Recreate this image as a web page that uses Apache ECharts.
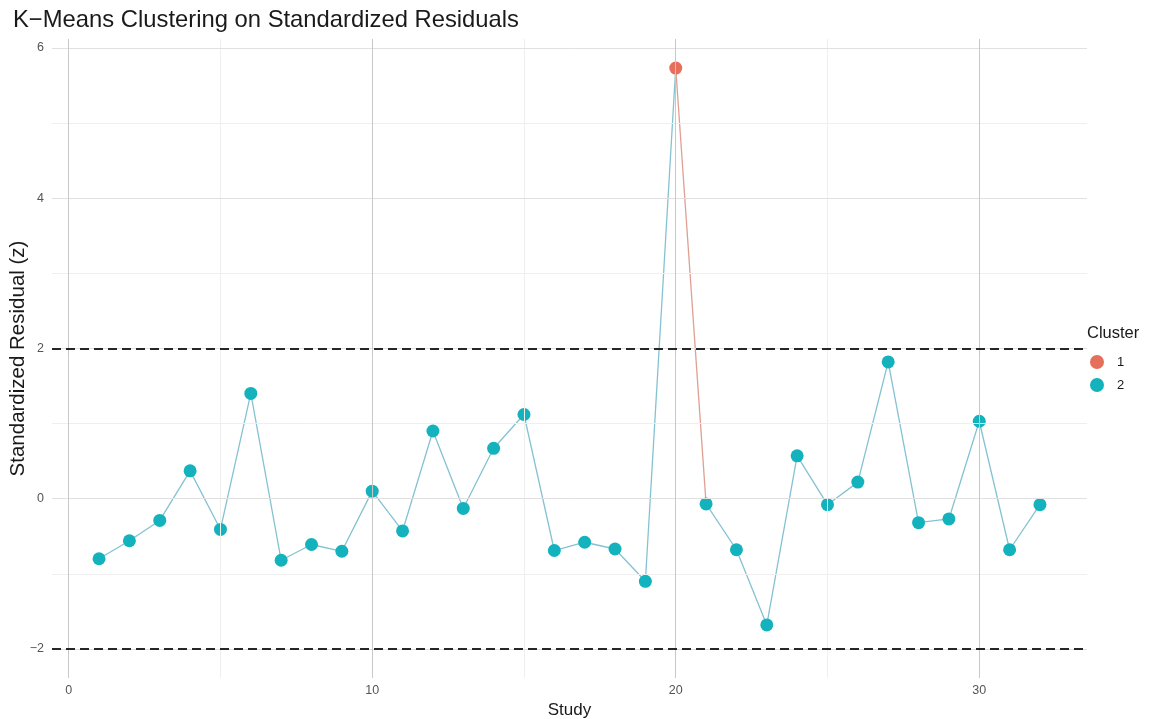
<!DOCTYPE html>
<html>
<head>
<meta charset="utf-8">
<title>K-Means Clustering on Standardized Residuals</title>
<script src="https://cdn.jsdelivr.net/npm/echarts@6/dist/echarts.min.js"></script>
<style>
  html, body { margin: 0; padding: 0; background: #fff; }
  #chart { width: 1176px; height: 719px; }
</style>
</head>
<body>
<div id="chart"></div>
<script>
// study index, standardized residual, cluster label
const studies = [1, 2, 3, 4, 5, 6, 7, 8, 9, 10, 11, 12, 13, 14, 15, 16,
                 17, 18, 19, 20, 21, 22, 23, 24, 25, 26, 27, 28, 29, 30, 31, 32];
const residuals = [-0.80, -0.56, -0.29, 0.37, -0.41, 1.40, -0.82, -0.61, -0.70, 0.10, -0.43, 0.90,
                   -0.13, 0.67, 1.12, -0.69, -0.58, -0.67, -1.10, 5.73, -0.07, -0.68, -1.68, 0.57,
                   -0.08, 0.22, 1.82, -0.32, -0.27, 1.03, -0.68, -0.08];
const clusters = [2, 2, 2, 2, 2, 2, 2, 2, 2, 2, 2, 2, 2, 2, 2, 2,
                  2, 2, 2, 1, 2, 2, 2, 2, 2, 2, 2, 2, 2, 2, 2, 2];

const clusterNames = ['1', '2'];
const thresholds = [-2, 2];
const xTicks = [0, 10, 20, 30];
const xMinor = [5, 15, 25];
const yTicks = [-2, 0, 2, 4, 6];
const yMinor = [-1, 1, 3, 5];

const pointColor = { '1': '#e66f5c', '2': '#14b2bd' };
const lineColor = { '1': '#dfa093', '2': '#84c2d2' };

const FONT = '"Liberation Sans", Arial, sans-serif';
const minus = v => String(v).replace('-', '\u2212');

// ggplot-style 5% expansion
const xLo = Math.min(...studies), xHi = Math.max(...studies);
const yLo = Math.min(...residuals, ...thresholds), yHi = Math.max(...residuals, ...thresholds);
const xPad = (xHi - xLo) * 0.05, yPad = (yHi - yLo) * 0.05;

// line segments coloured by the cluster of their starting point
const lineSeries = [];
let run = null;
for (let i = 0; i < studies.length - 1; i++) {
  const c = String(clusters[i]);
  if (!run || run.c !== c) {
    run = { c, pts: [[studies[i], residuals[i]]] };
    lineSeries.push(run);
  }
  run.pts.push([studies[i + 1], residuals[i + 1]]);
}

const series = [];

// panel grid lines
series.push({
  type: 'line',
  data: [],
  silent: true,
  z: 0,
  markLine: {
    silent: true,
    symbol: 'none',
    label: { show: false },
    animation: false,
    data: [
      ...xMinor.map(v => ({ xAxis: v, lineStyle: { color: '#efefef', width: 1, type: 'solid', opacity: 1 } })),
      ...yMinor.map(v => ({ yAxis: v, lineStyle: { color: '#efefef', width: 1, type: 'solid', opacity: 1 } })),
      ...yTicks.map(v => ({ yAxis: v, lineStyle: { color: '#e0e0e0', width: 1, type: 'solid', opacity: 1 } })),
      ...xTicks.map(v => ({ xAxis: v, lineStyle: { color: '#c8c8c8', width: 1, type: 'solid', opacity: 1 } }))
    ]
  }
});

lineSeries.forEach(r => {
  series.push({
    type: 'line',
    data: r.pts,
    showSymbol: false,
    symbol: 'none',
    silent: true,
    z: 2,
    lineStyle: { color: lineColor[r.c], width: 1.3, opacity: 1 }
  });
});

// threshold lines
series.push({
  type: 'line',
  data: [],
  silent: true,
  z: 3,
  markLine: {
    silent: true,
    symbol: 'none',
    label: { show: false },
    animation: false,
    lineStyle: { color: '#262626', width: 1.8, type: [9, 5], opacity: 1 },
    data: thresholds.map(v => ({ yAxis: v }))
  }
});

clusterNames.forEach(name => {
  series.push({
    name,
    type: 'scatter',
    symbol: 'circle',
    symbolSize: 13,
    z: 4,
    itemStyle: { color: pointColor[name], opacity: 1 },
    data: studies
      .map((s, i) => [s, residuals[i], clusters[i]])
      .filter(d => String(d[2]) === name)
      .map(d => [d[0], d[1]])
  });
});

const chart = echarts.init(document.getElementById('chart'));
chart.setOption({
  animation: false,
  backgroundColor: '#fff',
  textStyle: { fontFamily: FONT },
  title: [
    {
      text: 'K\u2212Means Clustering on Standardized Residuals',
      left: 8, top: 3,
      textStyle: { fontFamily: FONT, fontSize: 23.8, fontWeight: 'normal', color: '#1a1a1a' }
    },
    {
      text: 'Cluster',
      left: 1082, top: 320,
      textStyle: { fontFamily: FONT, fontSize: 16.5, fontWeight: 'normal', color: '#1a1a1a' }
    }
  ],
  legend: {
    data: clusterNames,
    orient: 'vertical',
    left: 1085, top: 350,
    icon: 'circle',
    itemWidth: 14, itemHeight: 14,
    itemGap: 9,
    itemStyle: { opacity: 1 },
    textStyle: { fontFamily: FONT, fontSize: 13, color: '#1a1a1a', padding: [0, 0, 0, 8] }
  },
  grid: { left: 52, right: 89, top: 39, bottom: 41, outerBoundsMode: 'none', containLabel: false },
  xAxis: {
    type: 'value',
    min: xLo - xPad,
    max: xHi + xPad,
    name: 'Study',
    nameLocation: 'middle',
    nameGap: 24,
    nameMoveOverlap: false,
    nameTextStyle: { fontFamily: FONT, fontSize: 17, color: '#1a1a1a' },
    axisLine: { show: false },
    axisTick: { show: false },
    splitLine: { show: false },
    axisLabel: {
      customValues: xTicks,
      margin: 6,
      fontSize: 12.5,
      color: '#555',
      formatter: minus
    }
  },
  yAxis: {
    type: 'value',
    min: yLo - yPad,
    max: yHi + yPad,
    name: 'Standardized Residual (z)',
    nameLocation: 'middle',
    nameGap: 23,
    nameMoveOverlap: false,
    nameTextStyle: { fontFamily: FONT, fontSize: 20.5, color: '#1a1a1a' },
    axisLine: { show: false },
    axisTick: { show: false },
    splitLine: { show: false },
    axisLabel: {
      customValues: yTicks,
      margin: 8,
      fontSize: 12.5,
      color: '#555',
      formatter: minus
    }
  },
  series
});
window.addEventListener('resize', () => chart.resize());
</script>
</body>
</html>
